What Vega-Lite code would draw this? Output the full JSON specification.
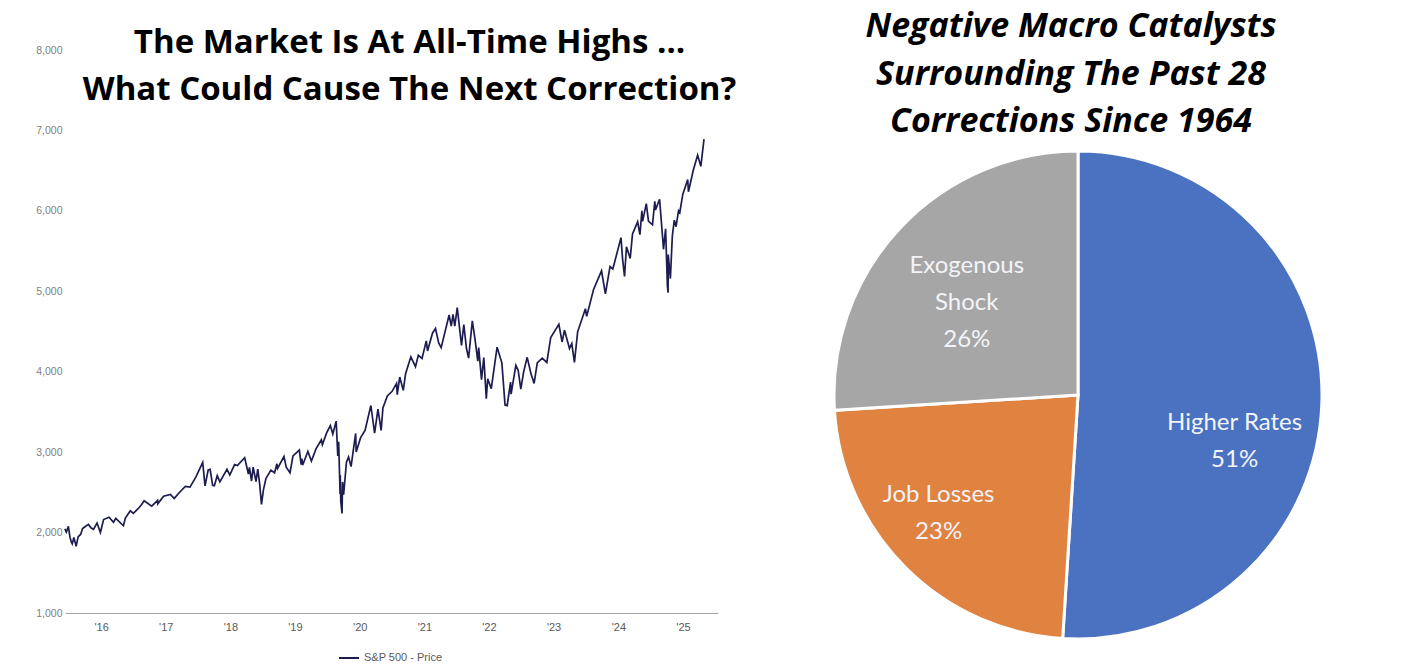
{
  "$schema": "https://vega.github.io/schema/vega-lite/v6.json",
  "background": "white",
  "padding": {"left": 35, "top": 10, "right": 0, "bottom": 0},
  "config": {"view": {"stroke": null}, "font": "Open Sans"},
  "bounds": "flush",
  "spacing": 116,
  "resolve": {"scale": {"color": "independent"}, "legend": {"color": "independent"}},
  "hconcat": [
    {
      "width": 653,
      "height": 563,
      "title": {
        "text": ["The Market Is At All-Time Highs …", "What Could Cause The Next Correction?"],
        "font": "Open Sans",
        "fontSize": 33,
        "fontWeight": "bold",
        "color": "#000000",
        "anchor": "middle",
        "frame": "group",
        "dx": 18,
        "offset": -62,
        "lineHeight": 47
      },
      "data": {
        "values": [
          {"date": "2015-12-10", "price": 2047}, {"date": "2015-12-14", "price": 2021}, {"date": "2015-12-18", "price": 2005},
          {"date": "2015-12-29", "price": 2078}, {"date": "2016-01-07", "price": 1943}, {"date": "2016-01-15", "price": 1880},
          {"date": "2016-01-20", "price": 1859}, {"date": "2016-01-29", "price": 1940}, {"date": "2016-02-11", "price": 1829},
          {"date": "2016-02-22", "price": 1946}, {"date": "2016-03-08", "price": 1980}, {"date": "2016-03-18", "price": 2050},
          {"date": "2016-04-01", "price": 2073}, {"date": "2016-04-20", "price": 2102}, {"date": "2016-05-06", "price": 2057},
          {"date": "2016-05-19", "price": 2040}, {"date": "2016-06-08", "price": 2119}, {"date": "2016-06-27", "price": 2001},
          {"date": "2016-07-15", "price": 2162}, {"date": "2016-08-15", "price": 2190}, {"date": "2016-09-09", "price": 2128},
          {"date": "2016-09-22", "price": 2177}, {"date": "2016-11-04", "price": 2085}, {"date": "2016-11-15", "price": 2180},
          {"date": "2016-12-13", "price": 2271}, {"date": "2016-12-30", "price": 2239}, {"date": "2017-01-26", "price": 2297},
          {"date": "2017-02-15", "price": 2350}, {"date": "2017-03-01", "price": 2396}, {"date": "2017-04-13", "price": 2329},
          {"date": "2017-05-16", "price": 2401}, {"date": "2017-05-17", "price": 2357}, {"date": "2017-06-19", "price": 2453},
          {"date": "2017-07-27", "price": 2475}, {"date": "2017-08-18", "price": 2425}, {"date": "2017-09-20", "price": 2508},
          {"date": "2017-10-20", "price": 2575}, {"date": "2017-11-15", "price": 2565}, {"date": "2017-12-18", "price": 2690},
          {"date": "2018-01-26", "price": 2873}, {"date": "2018-02-08", "price": 2581}, {"date": "2018-02-26", "price": 2780},
          {"date": "2018-03-09", "price": 2786}, {"date": "2018-03-23", "price": 2588}, {"date": "2018-04-02", "price": 2582},
          {"date": "2018-04-18", "price": 2708}, {"date": "2018-05-03", "price": 2630}, {"date": "2018-06-12", "price": 2787},
          {"date": "2018-06-28", "price": 2716}, {"date": "2018-07-25", "price": 2846}, {"date": "2018-08-10", "price": 2833},
          {"date": "2018-09-20", "price": 2931}, {"date": "2018-10-11", "price": 2728}, {"date": "2018-10-17", "price": 2809},
          {"date": "2018-10-29", "price": 2641}, {"date": "2018-11-07", "price": 2814}, {"date": "2018-11-23", "price": 2633},
          {"date": "2018-12-03", "price": 2790}, {"date": "2018-12-14", "price": 2600}, {"date": "2018-12-24", "price": 2351},
          {"date": "2019-01-04", "price": 2532}, {"date": "2019-01-18", "price": 2671}, {"date": "2019-02-15", "price": 2776},
          {"date": "2019-03-08", "price": 2743}, {"date": "2019-03-21", "price": 2855}, {"date": "2019-03-25", "price": 2798},
          {"date": "2019-04-30", "price": 2946}, {"date": "2019-05-13", "price": 2812}, {"date": "2019-06-03", "price": 2744},
          {"date": "2019-06-20", "price": 2954}, {"date": "2019-07-26", "price": 3026}, {"date": "2019-08-05", "price": 2844},
          {"date": "2019-08-09", "price": 2919}, {"date": "2019-08-14", "price": 2840}, {"date": "2019-09-12", "price": 3009},
          {"date": "2019-10-02", "price": 2888}, {"date": "2019-10-28", "price": 3040}, {"date": "2019-11-27", "price": 3154},
          {"date": "2019-12-03", "price": 3094}, {"date": "2019-12-27", "price": 3240}, {"date": "2020-01-17", "price": 3330},
          {"date": "2020-01-31", "price": 3226}, {"date": "2020-02-19", "price": 3386}, {"date": "2020-02-28", "price": 2954},
          {"date": "2020-03-04", "price": 3130}, {"date": "2020-03-12", "price": 2481}, {"date": "2020-03-13", "price": 2711},
          {"date": "2020-03-16", "price": 2386}, {"date": "2020-03-23", "price": 2237}, {"date": "2020-03-26", "price": 2630},
          {"date": "2020-04-01", "price": 2470}, {"date": "2020-04-17", "price": 2875}, {"date": "2020-04-29", "price": 2939},
          {"date": "2020-05-13", "price": 2820}, {"date": "2020-06-08", "price": 3232}, {"date": "2020-06-11", "price": 3002},
          {"date": "2020-07-06", "price": 3180}, {"date": "2020-07-31", "price": 3271}, {"date": "2020-09-02", "price": 3580},
          {"date": "2020-09-23", "price": 3237}, {"date": "2020-10-12", "price": 3534}, {"date": "2020-10-30", "price": 3270},
          {"date": "2020-11-09", "price": 3550}, {"date": "2020-12-04", "price": 3699}, {"date": "2020-12-31", "price": 3756},
          {"date": "2021-01-25", "price": 3855}, {"date": "2021-01-29", "price": 3714}, {"date": "2021-02-12", "price": 3934},
          {"date": "2021-03-04", "price": 3768}, {"date": "2021-03-17", "price": 3974}, {"date": "2021-04-16", "price": 4185},
          {"date": "2021-05-12", "price": 4063}, {"date": "2021-05-28", "price": 4204}, {"date": "2021-06-18", "price": 4166},
          {"date": "2021-07-12", "price": 4384}, {"date": "2021-07-19", "price": 4258}, {"date": "2021-08-16", "price": 4479},
          {"date": "2021-09-02", "price": 4537}, {"date": "2021-09-20", "price": 4358}, {"date": "2021-10-04", "price": 4300},
          {"date": "2021-11-18", "price": 4705}, {"date": "2021-11-30", "price": 4567}, {"date": "2021-12-10", "price": 4712},
          {"date": "2021-12-20", "price": 4568}, {"date": "2022-01-03", "price": 4797}, {"date": "2022-01-27", "price": 4326},
          {"date": "2022-02-09", "price": 4587}, {"date": "2022-02-24", "price": 4288}, {"date": "2022-03-08", "price": 4170},
          {"date": "2022-03-29", "price": 4632}, {"date": "2022-04-14", "price": 4392}, {"date": "2022-04-29", "price": 4132},
          {"date": "2022-05-04", "price": 4300}, {"date": "2022-05-20", "price": 3901}, {"date": "2022-06-02", "price": 4177},
          {"date": "2022-06-16", "price": 3666}, {"date": "2022-06-24", "price": 3912}, {"date": "2022-07-14", "price": 3790},
          {"date": "2022-08-16", "price": 4305}, {"date": "2022-09-12", "price": 4110}, {"date": "2022-09-30", "price": 3586},
          {"date": "2022-10-12", "price": 3577}, {"date": "2022-10-31", "price": 3872}, {"date": "2022-11-03", "price": 3720},
          {"date": "2022-11-30", "price": 4080}, {"date": "2022-12-13", "price": 4019}, {"date": "2022-12-28", "price": 3783},
          {"date": "2023-01-13", "price": 3999}, {"date": "2023-02-02", "price": 4179}, {"date": "2023-02-24", "price": 3970},
          {"date": "2023-03-13", "price": 3855}, {"date": "2023-03-31", "price": 4109}, {"date": "2023-04-28", "price": 4169},
          {"date": "2023-05-24", "price": 4115}, {"date": "2023-06-15", "price": 4426}, {"date": "2023-07-31", "price": 4589},
          {"date": "2023-08-18", "price": 4370}, {"date": "2023-09-01", "price": 4515}, {"date": "2023-09-29", "price": 4288},
          {"date": "2023-10-12", "price": 4350}, {"date": "2023-10-27", "price": 4117}, {"date": "2023-11-14", "price": 4496},
          {"date": "2023-12-28", "price": 4783}, {"date": "2024-01-04", "price": 4688}, {"date": "2024-02-12", "price": 5022},
          {"date": "2024-03-28", "price": 5254}, {"date": "2024-04-19", "price": 4967}, {"date": "2024-05-15", "price": 5308},
          {"date": "2024-05-31", "price": 5278}, {"date": "2024-07-16", "price": 5667}, {"date": "2024-07-25", "price": 5400},
          {"date": "2024-08-05", "price": 5186}, {"date": "2024-08-16", "price": 5554}, {"date": "2024-09-06", "price": 5408},
          {"date": "2024-09-19", "price": 5713}, {"date": "2024-10-18", "price": 5864}, {"date": "2024-10-31", "price": 5705},
          {"date": "2024-11-11", "price": 6001}, {"date": "2024-11-15", "price": 5870}, {"date": "2024-12-06", "price": 6090},
          {"date": "2024-12-18", "price": 5872}, {"date": "2025-01-10", "price": 5827}, {"date": "2025-01-23", "price": 6119},
          {"date": "2025-01-27", "price": 6012}, {"date": "2025-02-19", "price": 6144}, {"date": "2025-03-10", "price": 5615},
          {"date": "2025-03-13", "price": 5522}, {"date": "2025-03-25", "price": 5777}, {"date": "2025-04-04", "price": 5074},
          {"date": "2025-04-08", "price": 4982}, {"date": "2025-04-09", "price": 5457}, {"date": "2025-04-21", "price": 5158},
          {"date": "2025-05-02", "price": 5686}, {"date": "2025-05-13", "price": 5886}, {"date": "2025-05-23", "price": 5803},
          {"date": "2025-06-06", "price": 6000}, {"date": "2025-06-13", "price": 5977}, {"date": "2025-06-30", "price": 6205},
          {"date": "2025-07-28", "price": 6390}, {"date": "2025-08-01", "price": 6238}, {"date": "2025-08-28", "price": 6502},
          {"date": "2025-09-22", "price": 6693}, {"date": "2025-10-10", "price": 6553}, {"date": "2025-10-28", "price": 6891}
        ]
      },
      "mark": {"type": "line", "strokeWidth": 1.7},
      "encoding": {
        "x": {
          "field": "date",
          "type": "temporal",
          "scale": {"domain": [{"year": 2015, "month": 12, "date": 10}, {"year": 2026, "month": 1, "date": 15}]},
          "axis": {
            "title": null,
            "values": [
              {"year": 2016, "month": 7, "date": 1}, {"year": 2017, "month": 7, "date": 1},
              {"year": 2018, "month": 7, "date": 1}, {"year": 2019, "month": 7, "date": 1},
              {"year": 2020, "month": 7, "date": 1}, {"year": 2021, "month": 7, "date": 1},
              {"year": 2022, "month": 7, "date": 1}, {"year": 2023, "month": 7, "date": 1},
              {"year": 2024, "month": 7, "date": 1}, {"year": 2025, "month": 7, "date": 1}
            ],
            "format": "'%y",
            "grid": false,
            "ticks": false,
            "domainColor": "#a6a6a6",
            "domainWidth": 1,
            "labelFont": "Liberation Sans",
            "labelFontSize": 11,
            "labelColor": "#595959",
            "labelPadding": 8,
            "labelFlush": false
          }
        },
        "y": {
          "field": "price",
          "type": "quantitative",
          "scale": {"domain": [1000, 8000], "nice": false, "zero": false},
          "axis": {
            "title": null,
            "values": [1000, 2000, 3000, 4000, 5000, 6000, 7000, 8000],
            "format": ",d",
            "grid": false,
            "ticks": false,
            "domain": false,
            "labelFont": "Liberation Sans",
            "labelFontSize": 10.5,
            "labelColor": "#7f7f7f",
            "labelPadding": 3,
            "labelFlush": false
          }
        },
        "color": {
          "datum": "S&P 500 - Price",
          "scale": {"range": ["#1c1c50"]},
          "legend": {
            "orient": "none",
            "legendX": 273,
            "legendY": 597,
            "direction": "horizontal",
            "title": null,
            "symbolType": "stroke",
            "symbolStrokeWidth": 2,
            "symbolSize": 400,
            "labelFont": "Liberation Sans",
            "labelFontSize": 11,
            "labelColor": "#595959",
            "padding": 0
          }
        }
      }
    },
    {
      "width": 488,
      "height": 690,
      "title": {
        "text": ["Negative Macro Catalysts", "Surrounding The Past 28", "Corrections Since 1964"],
        "font": "Open Sans",
        "fontSize": 34,
        "fontWeight": "bold",
        "fontStyle": "italic",
        "color": "#000000",
        "anchor": "middle",
        "frame": "group",
        "dx": -7,
        "offset": -89,
        "lineHeight": 47.5
      },
      "data": {
        "values": [
          {"cause": "Higher Rates", "label": "Higher Rates", "share": 51, "slot": 1},
          {"cause": "Job Losses", "label": "Job Losses", "share": 23, "slot": 2},
          {"cause": "Exogenous Shock", "label": "Exogenous\nShock", "share": 26, "slot": 3}
        ]
      },
      "encoding": {
        "theta": {"field": "share", "type": "quantitative", "stack": true},
        "order": {"field": "slot", "type": "quantitative"}
      },
      "layer": [
        {
          "mark": {"type": "arc", "outerRadius": 244, "stroke": "#ffffff", "strokeWidth": 3},
          "encoding": {
            "color": {
              "field": "cause",
              "type": "nominal",
              "scale": {"domain": ["Higher Rates", "Job Losses", "Exogenous Shock"], "range": ["#4a72c0", "#e08240", "#a6a6a6"]},
              "legend": null
            }
          }
        },
        {
          "transform": [{"calculate": "datum.label + '\\n' + datum.share + '%'", "as": "text"}],
          "mark": {"type": "text", "radius": 166, "thetaOffset": 0.138, "dx": -7, "fill": "#f2f4f8", "font": "Lato", "fontSize": 24, "lineBreak": "\n", "lineHeight": 37, "align": "center", "baseline": "middle"},
          "encoding": {"text": {"field": "text"}}
        }
      ]
    }
  ]
}
